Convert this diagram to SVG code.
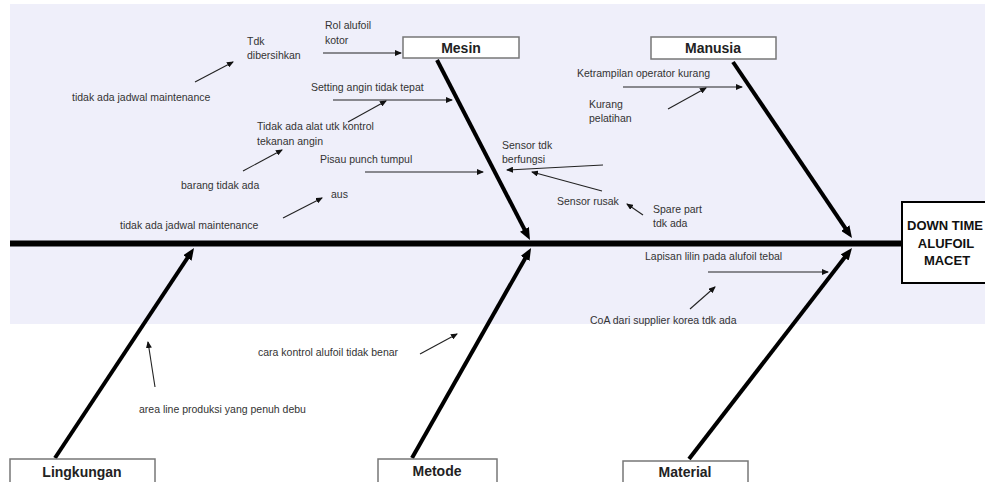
<svg xmlns="http://www.w3.org/2000/svg" width="985" height="482" viewBox="0 0 985 482">
<defs>
<style>
.t{font-family:"Liberation Sans",Arial,sans-serif;font-size:10.5px;fill:#333}
.lb{font-family:"Liberation Sans",Arial,sans-serif;font-size:14px;font-weight:bold;fill:#222;text-anchor:middle}
.hd{font-family:"Liberation Sans",Arial,sans-serif;font-size:13px;font-weight:bold;fill:#111;text-anchor:middle}
.box{fill:#fff;stroke:#777;stroke-width:1.5}
.bone{stroke:#000;stroke-width:4;fill:none}
.sm{stroke:#222;stroke-width:1.1;fill:none}
</style>
<marker id="big" viewBox="0 0 12 10" refX="4" refY="5" markerWidth="12" markerHeight="10" markerUnits="userSpaceOnUse" orient="auto"><path d="M0,0 L12,5 L0,10 z" fill="#000"/></marker>
<marker id="small" viewBox="0 0 7 6" refX="6" refY="3" markerWidth="7" markerHeight="6" markerUnits="userSpaceOnUse" orient="auto"><path d="M0,0 L7,3 L0,6 z" fill="#111"/></marker>
</defs>
<rect x="0" y="0" width="985" height="482" fill="#fff"/>
<rect x="10" y="4" width="975" height="320" fill="#efeffa"/>

<g id="connectors">
<line x1="10" y1="243.5" x2="902" y2="243.5" stroke="#000" stroke-width="6"/>
<line class="bone" x1="437" y1="60" x2="526.3" y2="232.9" marker-end="url(#big)"/>
<line class="bone" x1="733" y1="62" x2="847.5" y2="231.4" marker-end="url(#big)"/>
<line class="bone" x1="55" y1="458" x2="189.6" y2="254.7" marker-end="url(#big)"/>
<line class="bone" x1="412" y1="458" x2="527.1" y2="255" marker-end="url(#big)"/>
<line class="bone" x1="689" y1="459" x2="847.1" y2="254.3" marker-end="url(#big)"/>
<line class="sm" x1="323" y1="53" x2="401" y2="53" marker-end="url(#small)"/>
<line class="sm" x1="195" y1="82" x2="233" y2="62" marker-end="url(#small)"/>
<line class="sm" x1="333" y1="100" x2="452" y2="100" marker-end="url(#small)"/>
<line class="sm" x1="348" y1="122" x2="386" y2="101" marker-end="url(#small)"/>
<line class="sm" x1="243" y1="171" x2="282" y2="150" marker-end="url(#small)"/>
<line class="sm" x1="365" y1="172" x2="483" y2="172" marker-end="url(#small)"/>
<line class="sm" x1="283" y1="218" x2="322" y2="198" marker-end="url(#small)"/>
<line class="sm" x1="603" y1="165" x2="507" y2="170" marker-end="url(#small)"/>
<line class="sm" x1="602" y1="191" x2="532" y2="172" marker-end="url(#small)"/>
<line class="sm" x1="643" y1="215" x2="627" y2="204" marker-end="url(#small)"/>
<line class="sm" x1="623" y1="87" x2="742" y2="87" marker-end="url(#small)"/>
<line class="sm" x1="668" y1="109" x2="706" y2="88" marker-end="url(#small)"/>
<line class="sm" x1="708" y1="272" x2="828" y2="272" marker-end="url(#small)"/>
<line class="sm" x1="690" y1="309" x2="715" y2="287" marker-end="url(#small)"/>
<line class="sm" x1="420" y1="354" x2="457" y2="334" marker-end="url(#small)"/>
<line class="sm" x1="155" y1="387" x2="148" y2="342" marker-end="url(#small)"/>
</g>

<g id="head">
<rect x="902" y="202" width="100" height="81" fill="#fff" stroke="#000" stroke-width="2"/>
<text class="hd" x="945" y="230">DOWN TIME</text>
<text class="hd" x="946" y="248">ALUFOIL</text>
<text class="hd" x="947" y="265">MACET</text>
</g>
<g id="mesin"><rect class="box" x="403" y="37" width="116" height="21"/><text class="lb" x="461" y="52.5">Mesin</text></g>
<g id="manusia"><rect class="box" x="651" y="37" width="125" height="22"/><text class="lb" x="713" y="53">Manusia</text></g>
<g id="lingkungan"><rect class="box" x="10" y="459" width="145" height="30"/><text class="lb" x="82" y="477">Lingkungan</text></g>
<g id="metode"><rect class="box" x="378" y="459" width="119" height="30"/><text class="lb" x="437" y="476">Metode</text></g>
<g id="material"><rect class="box" x="623" y="461" width="125" height="30"/><text class="lb" x="685" y="477">Material</text></g>

<g id="causes">
<text class="t" x="325" y="29">Rol alufoil</text>
<text class="t" x="325" y="44">kotor</text>
<text class="t" x="247" y="45">Tdk</text>
<text class="t" x="247" y="59">dibersihkan</text>
<text class="t" x="72" y="101">tidak ada jadwal maintenance</text>
<text class="t" x="311" y="91">Setting angin tidak tepat</text>
<text class="t" x="257" y="130">Tidak ada alat utk kontrol</text>
<text class="t" x="257" y="145">tekanan angin</text>
<text class="t" x="181" y="189">barang tidak ada</text>
<text class="t" x="320" y="163">Pisau punch tumpul</text>
<text class="t" x="331" y="198">aus</text>
<text class="t" x="120" y="229">tidak ada jadwal maintenance</text>
<text class="t" x="502" y="149">Sensor tdk</text>
<text class="t" x="502" y="163">berfungsi</text>
<text class="t" x="557" y="205">Sensor rusak</text>
<text class="t" x="653" y="213">Spare part</text>
<text class="t" x="653" y="227">tdk ada</text>
<text class="t" x="577" y="77">Ketrampilan operator kurang</text>
<text class="t" x="589" y="108">Kurang</text>
<text class="t" x="589" y="122">pelatihan</text>
<text class="t" x="645" y="260">Lapisan lilin pada alufoil tebal</text>
<text class="t" x="590" y="324">CoA dari supplier korea tdk ada</text>
<text class="t" x="258" y="356">cara kontrol alufoil tidak benar</text>
<text class="t" x="139" y="413">area line produksi yang penuh debu</text>
</g>
</svg>
